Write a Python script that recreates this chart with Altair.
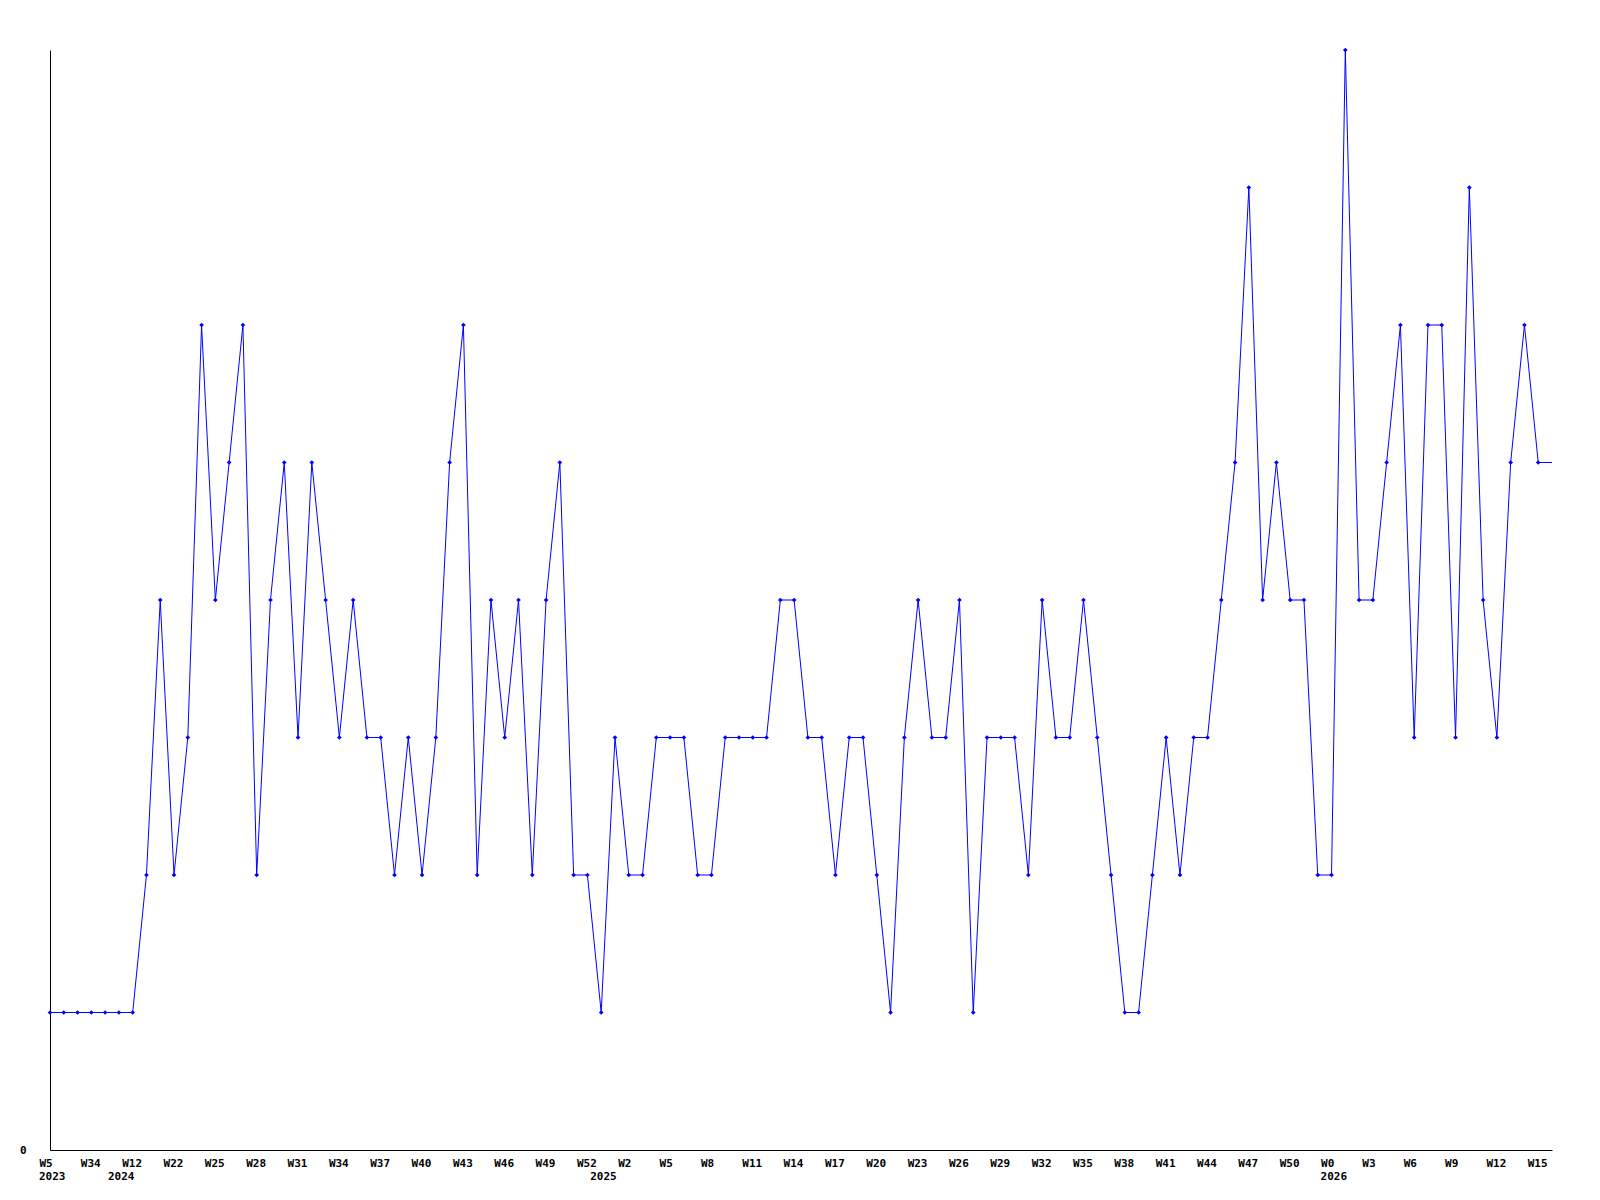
import altair as alt
import pandas as pd

values = [1, 1, 1, 1, 1, 1, 1, 2, 4, 2,
          3, 6, 4, 5, 6, 2, 4, 5, 3, 5,
          4, 3, 4, 3, 3, 2, 3, 2, 3, 5,
          6, 2, 4, 3, 4, 2, 4, 5, 2, 2,
          1, 3, 2, 2, 3, 3, 3, 2, 2, 3,
          3, 3, 3, 4, 4, 3, 3, 2, 3, 3,
          2, 1, 3, 4, 3, 3, 4, 1, 3, 3,
          3, 2, 4, 3, 3, 4, 3, 2, 1, 1,
          2, 3, 2, 3, 3, 4, 5, 7, 4, 5,
          4, 4, 2, 2, 8, 4, 4, 5, 6, 3,
          6, 6, 3, 7, 4, 3, 5, 6, 5]
# line continues flat to the right edge
tail_value = 5

week_labels = ["W5", "W34", "W12", "W22", "W25", "W28", "W31", "W34", "W37", "W40",
               "W43", "W46", "W49", "W52", "W2", "W5", "W8", "W11", "W14", "W17",
               "W20", "W23", "W26", "W29", "W32", "W35", "W38", "W41", "W44", "W47",
               "W50", "W0", "W3", "W6", "W9", "W12", "W15"]
years = ["2023", "2024", "2025", "2026"]
year_pos = [0, 5, 40, 93]

n = len(values)
line_df = pd.DataFrame({"i": list(range(n + 1)), "v": values + [tail_value]})
pt_df = pd.DataFrame({"i": list(range(n)), "v": values})
year_df = pd.DataFrame({"i": year_pos, "year": years})

FONT = "DejaVu Sans Mono"
label_arr = "[" + ",".join("'" + w + "'" for w in week_labels) + "]"

xscale = alt.Scale(domain=[0, n], nice=False, zero=False)
yscale = alt.Scale(domain=[0, 8], nice=False)

xaxis = alt.Axis(values=list(range(0, 3 * len(week_labels), 3)),
                 labelExpr=label_arr + "[round(datum.value/3)]",
                 title=None, grid=False, ticks=False, domainColor="black",
                 domainWidth=1, labelFont=FONT, labelFontWeight="bold",
                 labelFontSize=11, labelColor="black", labelAlign="left",
                 labelOffset=-11, labelBaseline="top", labelPadding=7,
                 labelOverlap=False, labelFlush=False)
yaxis = alt.Axis(values=[0], format="d", title=None, grid=False, ticks=False,
                 domainColor="black", domainWidth=1, labelFont=FONT,
                 labelFontWeight="bold", labelFontSize=11, labelColor="black",
                 labelPadding=24, labelBaseline="middle", labelFlush=False)

line = alt.Chart(line_df).mark_line(color="#0000ff", strokeWidth=1).encode(
    x=alt.X("i:Q", scale=xscale, axis=xaxis),
    y=alt.Y("v:Q", scale=yscale, axis=yaxis),
)
pts = alt.Chart(pt_df).mark_point(shape="diamond", filled=True, size=22,
                                  color="#0000ff", opacity=1).encode(
    x=alt.X("i:Q", scale=xscale),
    y=alt.Y("v:Q", scale=yscale),
)
yr = alt.Chart(year_df).mark_text(font=FONT, fontWeight="bold", fontSize=11,
                                  color="black", align="left", baseline="middle",
                                  dx=-11).encode(
    x=alt.X("i:Q", scale=xscale),
    y=alt.value(1127),
    text="year:N",
)

chart = alt.layer(line, pts, yr).properties(
    width=1502, height=1100,
    autosize=alt.AutoSizeParams(type="none"),
    padding={"left": 42, "top": 42, "right": 40, "bottom": 50},
).configure(background="white", view=alt.ViewConfig(stroke=None))

chart.save("out.html", embed_options={"renderer": "svg", "actions": False})
